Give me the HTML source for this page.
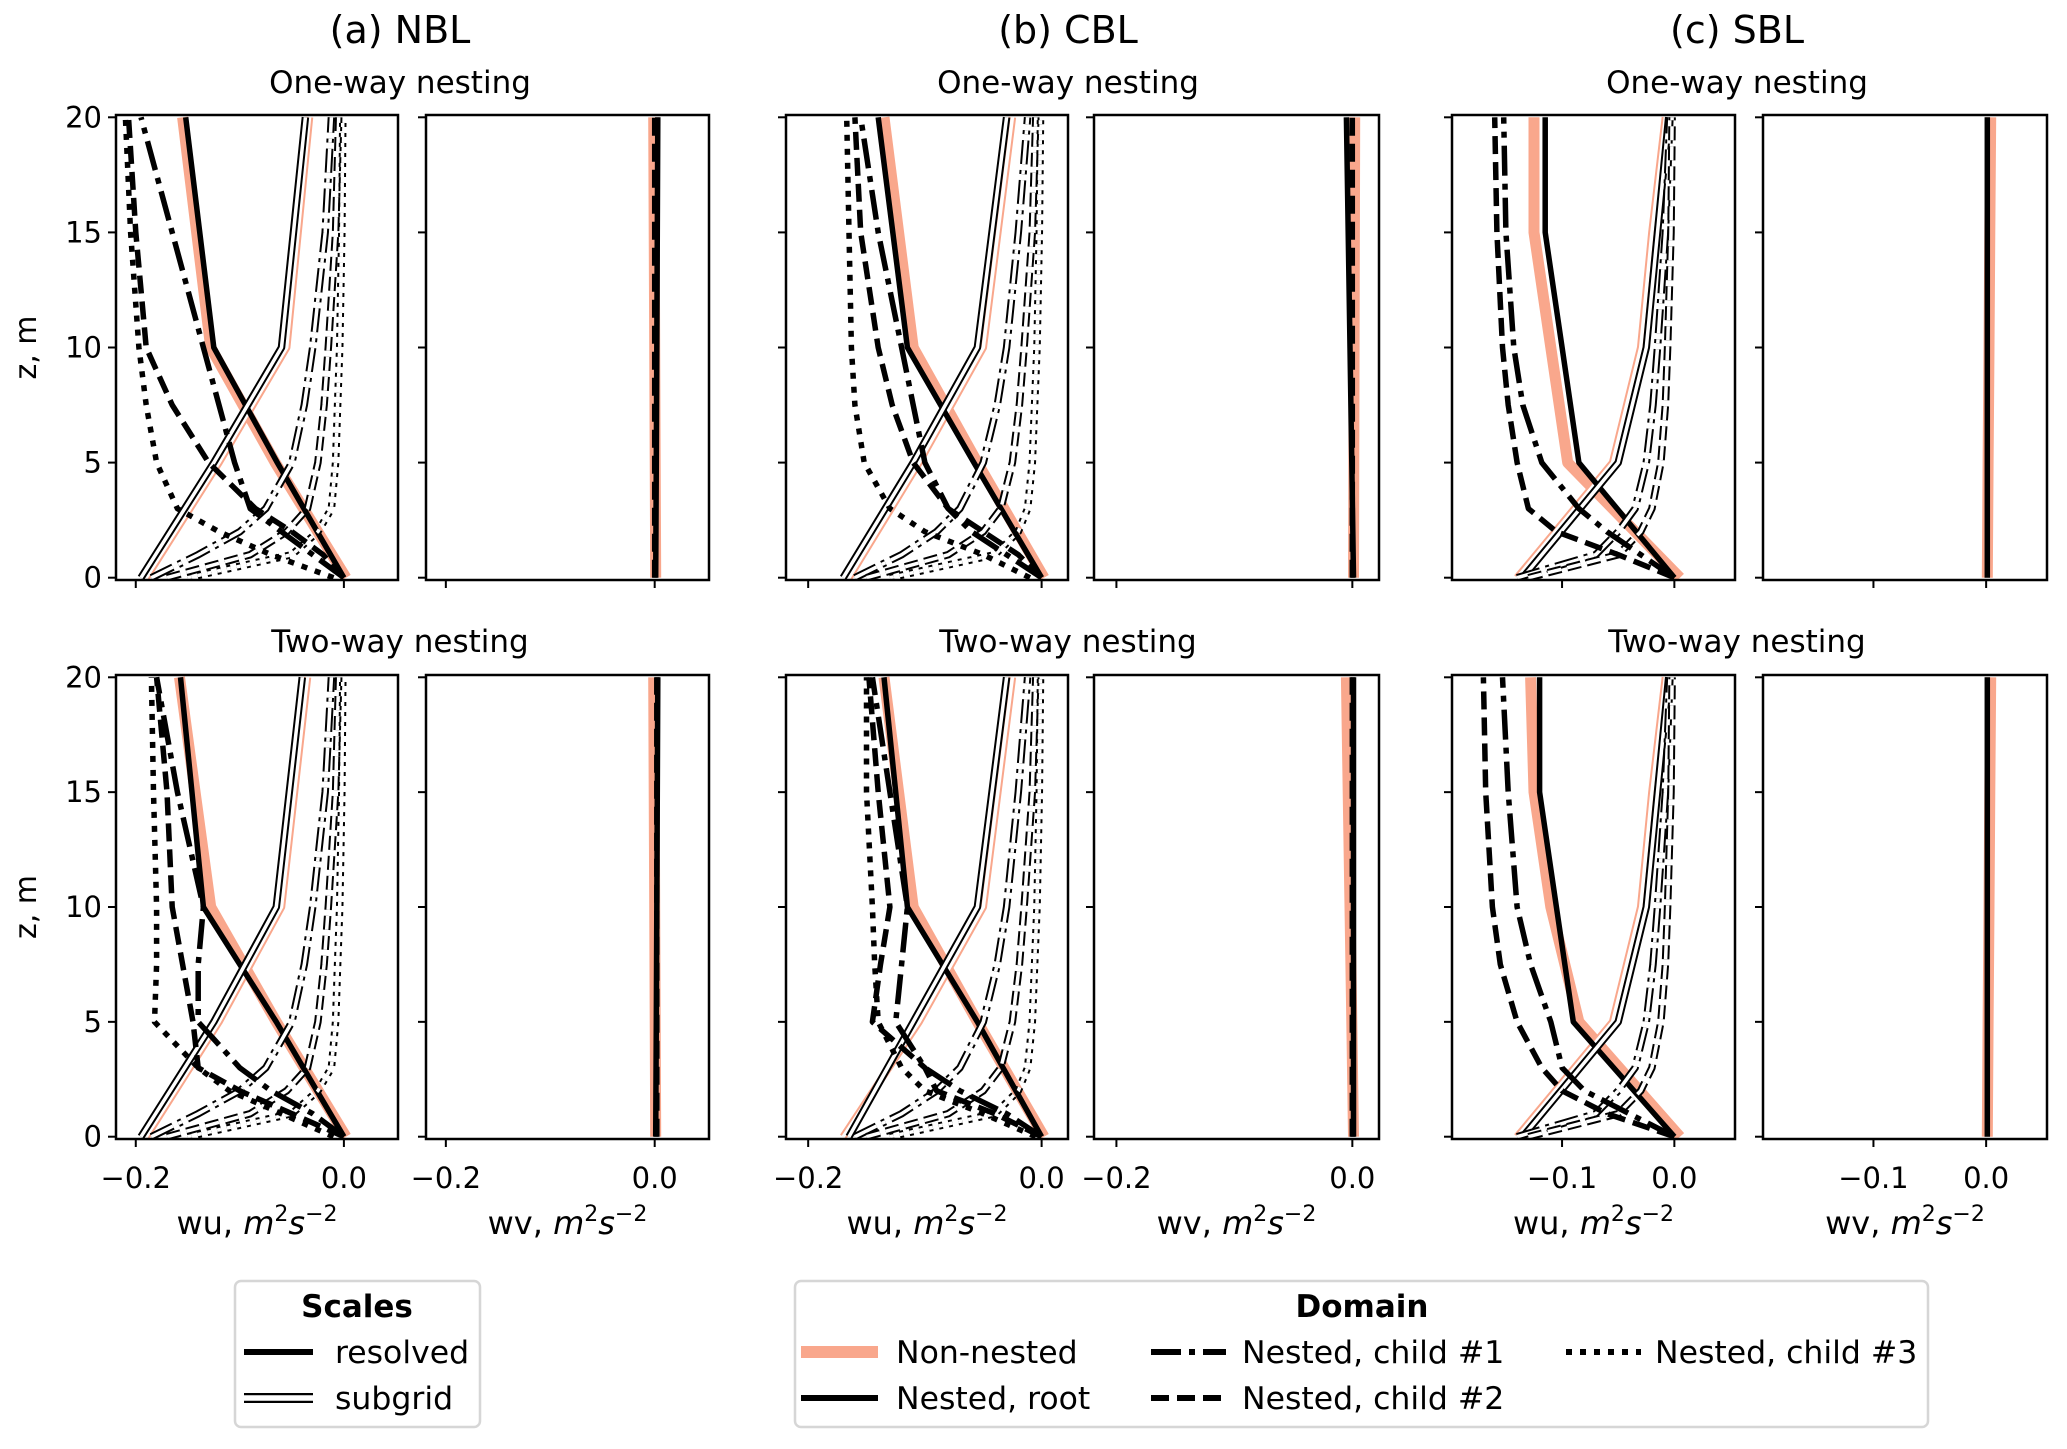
<!DOCTYPE html>
<html><head><meta charset="utf-8">
<style>
html,body{margin:0;padding:0;background:#fff;}
svg{display:block;font-family:"DejaVu Sans","Liberation Sans",sans-serif;}
</style></head>
<body>
<svg id="fig" width="2067" height="1449" viewBox="0 0 2067 1449" xmlns="http://www.w3.org/2000/svg">
<rect width="2067" height="1449" fill="#fff"/>
<g id="plots"></g>
<g>
<rect x="235" y="1281" width="245" height="146" rx="6" fill="#fff" stroke="#d6d6d6" stroke-width="2.5"/>
<text x="357" y="1317" font-size="31" font-weight="bold" text-anchor="middle">Scales</text>
<line x1="244" y1="1352" x2="313" y2="1352" stroke="#000" stroke-width="6"/>
<text x="335" y="1363" font-size="31.5">resolved</text>
<line x1="244" y1="1398" x2="313" y2="1398" stroke="#000" stroke-width="10"/>
<line x1="244" y1="1398" x2="313" y2="1398" stroke="#fff" stroke-width="5.5"/>
<text x="335" y="1409" font-size="31.5">subgrid</text>
</g>
<g>
<rect x="795" y="1281" width="1133" height="146" rx="6" fill="#fff" stroke="#d6d6d6" stroke-width="2.5"/>
<text x="1362" y="1317" font-size="31" font-weight="bold" text-anchor="middle">Domain</text>
<line x1="801" y1="1352" x2="878" y2="1352" stroke="#f9a78c" stroke-width="12"/>
<text x="896" y="1363" font-size="31.5">Non-nested</text>
<line x1="801" y1="1398" x2="878" y2="1398" stroke="#000" stroke-width="6"/>
<text x="896" y="1409" font-size="31.5">Nested, root</text>
<line x1="1151" y1="1352" x2="1226" y2="1352" stroke="#000" stroke-width="6" stroke-dasharray="30,8,6,8"/>
<text x="1242" y="1363" font-size="31.5">Nested, child #1</text>
<line x1="1151" y1="1398" x2="1226" y2="1398" stroke="#000" stroke-width="6" stroke-dasharray="18,8"/>
<text x="1242" y="1409" font-size="31.5">Nested, child #2</text>
<line x1="1566" y1="1352" x2="1641" y2="1352" stroke="#000" stroke-width="6" stroke-dasharray="6,8"/>
<text x="1655" y="1363" font-size="31.5">Nested, child #3</text>
</g>
</svg>
<script>
// heights
const zCoarse = [0, 5, 10, 20];
const zCoarseSBL = [0, 5, 10, 15, 20];
const zFine = [0, 1, 2, 3, 5, 7.5, 10, 15, 20];
// NBL one-way wu
const nblOneNNRes = [0.002, -0.066, -0.128, -0.155];
const nblOneNNSg = [-0.19, -0.12, -0.055, -0.033];
const nblOneRootRes = [0, -0.064, -0.125, -0.152];
const nblOneRootSg = [-0.195, -0.125, -0.06, -0.037];
const nblOneC1Res = [0, -0.03, -0.06, -0.09, -0.105, -0.12, -0.135, -0.165, -0.195];
const nblOneC2Res = [0, -0.02, -0.05, -0.085, -0.13, -0.165, -0.19, -0.2, -0.207];
const nblOneC3Res = [-0.01, -0.07, -0.12, -0.16, -0.18, -0.19, -0.197, -0.205, -0.21];
const nblOneC1Sg = [-0.185, -0.14, -0.1, -0.075, -0.05, -0.038, -0.03, -0.018, -0.012];
const nblOneC2Sg = [-0.17, -0.09, -0.055, -0.035, -0.025, -0.019, -0.015, -0.008, -0.005];
const nblOneC3Sg = [-0.15, -0.05, -0.025, -0.012, -0.008, -0.006, -0.004, -0.002, -0.001];
// NBL two-way wu
const nblTwoNNRes = [0.002, -0.065, -0.128, -0.158];
const nblTwoNNSg = [-0.19, -0.12, -0.06, -0.035];
const nblTwoRootRes = [0, -0.065, -0.135, -0.157];
const nblTwoRootSg = [-0.195, -0.125, -0.065, -0.04];
const nblTwoC1Res = [0, -0.03, -0.07, -0.1, -0.14, -0.14, -0.135, -0.16, -0.18];
const nblTwoC2Res = [0, -0.05, -0.1, -0.14, -0.145, -0.155, -0.165, -0.17, -0.18];
const nblTwoC3Res = [-0.01, -0.06, -0.11, -0.14, -0.182, -0.18, -0.18, -0.183, -0.185];
const nblTwoC1Sg = [-0.185, -0.14, -0.1, -0.075, -0.05, -0.038, -0.03, -0.018, -0.012];
const nblTwoC2Sg = [-0.17, -0.09, -0.055, -0.035, -0.025, -0.019, -0.015, -0.008, -0.005];
const nblTwoC3Sg = [-0.15, -0.05, -0.025, -0.012, -0.008, -0.006, -0.004, -0.002, -0.001];
// CBL one-way wu
const cblOneNNRes = [0.002, -0.055, -0.11, -0.135];
const cblOneNNSg = [-0.165, -0.105, -0.05, -0.025];
const cblOneRootRes = [0, -0.058, -0.115, -0.14];
const cblOneRootSg = [-0.17, -0.11, -0.055, -0.03];
const cblOneC1Res = [0, -0.03, -0.06, -0.08, -0.1, -0.11, -0.12, -0.14, -0.155];
const cblOneC2Res = [0, -0.02, -0.05, -0.08, -0.11, -0.128, -0.14, -0.155, -0.16];
const cblOneC3Res = [-0.01, -0.05, -0.1, -0.13, -0.152, -0.16, -0.163, -0.165, -0.167];
const cblOneC1Sg = [-0.16, -0.12, -0.09, -0.07, -0.05, -0.038, -0.03, -0.02, -0.012];
const cblOneC2Sg = [-0.15, -0.08, -0.05, -0.035, -0.025, -0.019, -0.015, -0.008, -0.005];
const cblOneC3Sg = [-0.13, -0.04, -0.02, -0.012, -0.008, -0.006, -0.004, -0.002, -0.001];
// CBL two-way wu
const cblTwoNNRes = [0.002, -0.055, -0.11, -0.135];
const cblTwoNNSg = [-0.17, -0.105, -0.05, -0.025];
const cblTwoRootRes = [0, -0.055, -0.115, -0.135];
const cblTwoRootSg = [-0.165, -0.11, -0.055, -0.03];
const cblTwoC1Res = [0, -0.03, -0.07, -0.1, -0.125, -0.12, -0.115, -0.13, -0.145];
const cblTwoC2Res = [0, -0.04, -0.09, -0.1, -0.145, -0.138, -0.13, -0.14, -0.148];
const cblTwoC3Res = [-0.005, -0.05, -0.1, -0.12, -0.14, -0.143, -0.145, -0.15, -0.15];
const cblTwoC1Sg = [-0.16, -0.12, -0.09, -0.07, -0.05, -0.038, -0.03, -0.02, -0.012];
const cblTwoC2Sg = [-0.15, -0.08, -0.05, -0.035, -0.025, -0.019, -0.015, -0.008, -0.005];
const cblTwoC3Sg = [-0.13, -0.04, -0.02, -0.012, -0.008, -0.006, -0.004, -0.002, -0.001];
// SBL one-way wu
const sblOneNNRes = [0.005, -0.095, -0.11, -0.125, -0.125];
const sblOneNNSg = [-0.14, -0.055, -0.03, -0.02, -0.008];
const sblOneRootRes = [0, -0.085, -0.1, -0.115, -0.115];
const sblOneRootSg = [-0.135, -0.05, -0.025, -0.015, -0.005];
const sblOneC1Res = [0, -0.03, -0.06, -0.085, -0.118, -0.135, -0.143, -0.15, -0.152];
const sblOneC2Res = [0, -0.05, -0.105, -0.13, -0.14, -0.148, -0.153, -0.158, -0.16];
const sblOneC1Sg = [-0.14, -0.07, -0.05, -0.035, -0.025, -0.019, -0.015, -0.008, -0.004];
const sblOneC2Sg = [-0.13, -0.05, -0.03, -0.02, -0.012, -0.008, -0.006, -0.003, -0.002];
// SBL two-way wu
const sblTwoNNRes = [0.005, -0.085, -0.11, -0.125, -0.128];
const sblTwoNNSg = [-0.14, -0.055, -0.03, -0.02, -0.008];
const sblTwoRootRes = [0, -0.09, -0.105, -0.12, -0.12];
const sblTwoRootSg = [-0.135, -0.05, -0.025, -0.015, -0.005];
const sblTwoC1Res = [0, -0.04, -0.08, -0.1, -0.11, -0.128, -0.14, -0.148, -0.153];
const sblTwoC2Res = [0, -0.06, -0.1, -0.118, -0.14, -0.155, -0.162, -0.168, -0.17];
const sblTwoC1Sg = [-0.14, -0.07, -0.05, -0.035, -0.025, -0.019, -0.015, -0.008, -0.004];
const sblTwoC2Sg = [-0.13, -0.05, -0.03, -0.02, -0.012, -0.008, -0.006, -0.003, -0.002];
// wv (near zero)
const wvNNOffset = [-0.002, -0.002, 0.001, -0.006, 0.003, 0.003];
const wvRootOffset = [0.002, 0.002, -0.006, 0.0, 0.0, 0.0];
const wvChildOffset = [0.0, 0.002, 0.0, 0.0, 0.0, 0.0];
// tick labels
const zTicks = [0, 5, 10, 15, 20];
const wuTicksNB = [-0.2, 0.0];
const wuTicksSBL = [-0.1, 0.0];

const NS='http://www.w3.org/2000/svg';
const plots=document.getElementById('plots');
function mk(tag,attrs,parent){const e=document.createElementNS(NS,tag);for(const k in attrs)e.setAttribute(k,attrs[k]);(parent||plots).appendChild(e);return e;}
const SAL='#f9a78c';
const colX=[[116,398,426,709],[786,1068,1094,1379],[1452,1735,1763,2047]];
const rowY=[[115,580],[675,1139]];
const xlims=[[-0.219,0.052],[-0.219,0.0226],[-0.198,0.054]];
const titles=['(a) NBL','(b) CBL','(c) SBL'];
const tcx=[400,1068,1737];
const dash={c1:'30,8,6,8',c2:'18,8',c3:'6,8'};
const sgDash={c1:'24,6,4,6',c2:'14,6',c3:'4,6'};
const wuData=[
 [[nblOneNNRes,nblOneNNSg,nblOneRootRes,nblOneRootSg,[nblOneC1Res,nblOneC2Res,nblOneC3Res],[nblOneC1Sg,nblOneC2Sg,nblOneC3Sg]],
  [nblTwoNNRes,nblTwoNNSg,nblTwoRootRes,nblTwoRootSg,[nblTwoC1Res,nblTwoC2Res,nblTwoC3Res],[nblTwoC1Sg,nblTwoC2Sg,nblTwoC3Sg]]],
 [[cblOneNNRes,cblOneNNSg,cblOneRootRes,cblOneRootSg,[cblOneC1Res,cblOneC2Res,cblOneC3Res],[cblOneC1Sg,cblOneC2Sg,cblOneC3Sg]],
  [cblTwoNNRes,cblTwoNNSg,cblTwoRootRes,cblTwoRootSg,[cblTwoC1Res,cblTwoC2Res,cblTwoC3Res],[cblTwoC1Sg,cblTwoC2Sg,cblTwoC3Sg]]],
 [[sblOneNNRes,sblOneNNSg,sblOneRootRes,sblOneRootSg,[sblOneC1Res,sblOneC2Res],[sblOneC1Sg,sblOneC2Sg]],
  [sblTwoNNRes,sblTwoNNSg,sblTwoRootRes,sblTwoRootSg,[sblTwoC1Res,sblTwoC2Res],[sblTwoC1Sg,sblTwoC2Sg]]]
];
function pts(xs,zs,sx,sy){return xs.map((v,i)=>sx(v).toFixed(1)+','+sy(zs[i]).toFixed(1)).join(' ');}

for(let c=0;c<3;c++){
  const t=mk('text',{x:tcx[c],y:43,'font-size':38,'text-anchor':'middle'});t.textContent=titles[c];
  
  
  for(let r=0;r<2;r++){
    const st=mk('text',{x:tcx[c],y:r?652:93,'font-size':31,'text-anchor':'middle'});st.textContent=r?'Two-way nesting':'One-way nesting';
    
    
    for(let p=0;p<2;p++){
      const x0=colX[c][p*2],x1=colX[c][p*2+1],y0=rowY[r][0],y1=rowY[r][1];
      const lim=xlims[c];
      const sx=v=>x0+(v-lim[0])/(lim[1]-lim[0])*(x1-x0);
      const sy=z=>y1-(z+0.1)/20.2*(y1-y0);
      const g=mk('g',{});
      
      
      const cid='clip'+c+r+p;
      const cp=mk('clipPath',{id:cid},g);mk('rect',{x:x0,y:y0,width:x1-x0,height:y1-y0},cp);
      const lg=mk('g',{'clip-path':'url(#'+cid+')'},g);
      const zc=c===2?zCoarseSBL:zCoarse;
      function line(xs,zs,color,w,da,name){
        const e=mk('polyline',{points:pts(xs,zs,sx,sy),fill:'none',stroke:color,'stroke-width':w,'stroke-linejoin':'round'},lg);
        if(da)e.setAttribute('stroke-dasharray',da);
        
        
      }
      function dbl(xs,zs,color,da,name){line(xs,zs,color,7.5,da,name);line(xs,zs,'#fff',3.5,da,name+'-inner');}
      if(p===0){
        const d=wuData[c][r];
        line(d[0],zc,SAL,11,null,'non-nested-resolved');
        dbl(d[1],zc,SAL,null,'non-nested-subgrid');
        line(d[2],zc,'#000',5.5,null,'root-resolved');
        dbl(d[3],zc,'#000',null,'root-subgrid');
        const keys=['c1','c2','c3'];
        d[5].forEach((s,i)=>dbl(s,zFine,'#000',sgDash[keys[i]],'child-'+(i+1)+'-subgrid'));
        d[4].forEach((s,i)=>line(s,zFine,'#000',5.5,dash[keys[i]],'child-'+(i+1)+'-resolved'));
      } else {
        const k=c*2+r;
        line(zc.map(z=>wvNNOffset[k]*z/20+0.001),zc,SAL,11,null,'non-nested-wv');
        line(zc.map(z=>wvRootOffset[k]*z/20+0.001),zc,'#000',5.5,null,'root-wv');
        if(c<2) line(zFine.map(z=>wvChildOffset[k]),zFine,'#000',5.5,dash.c2,'child-wv');
      }
      mk('rect',{x:x0,y:y0,width:x1-x0,height:y1-y0,fill:'none',stroke:'#000','stroke-width':2.5},g);
      zTicks.forEach(z=>{
        mk('line',{x1:x0-8,x2:x0,y1:sy(z),y2:sy(z),stroke:'#000','stroke-width':2},g);
        if(p===0&&c===0){const tl=mk('text',{x:x0-14,y:sy(z)+10,'font-size':29,'text-anchor':'end'},g);tl.textContent=z;
          
          }
      });
      const xt=(c===2)?wuTicksSBL:wuTicksNB;
      xt.forEach(v=>{
        mk('line',{x1:sx(v),x2:sx(v),y1:y1,y2:y1+8,stroke:'#000','stroke-width':2},g);
        if(r===1){const tl=mk('text',{x:sx(v),y:1188,'font-size':29,'text-anchor':'middle'},g);tl.textContent=(v<0?'\u2212':'')+Math.abs(v).toFixed(1);
          
          }
      });
      if(r===1){
        const xl=mk('text',{x:(x0+x1)/2,y:1234,'font-size':32,'text-anchor':'middle'},g);
        xl.innerHTML=(p?'wv':'wu')+', <tspan font-style="italic">m</tspan><tspan font-size="22" dy="-13">2</tspan><tspan font-style="italic" dy="13">s</tspan><tspan font-size="22" dy="-13">\u22122</tspan>';
        
        
      }
      if(c===0&&p===0){
        const cy=(y0+y1)/2;
        const yl=mk('text',{x:36,y:cy,'font-size':30,'text-anchor':'middle',transform:'rotate(-90 36 '+cy+')'},g);
        yl.textContent='z, m';
        
        
      }
    }
  }
}
</script>
</body></html>
